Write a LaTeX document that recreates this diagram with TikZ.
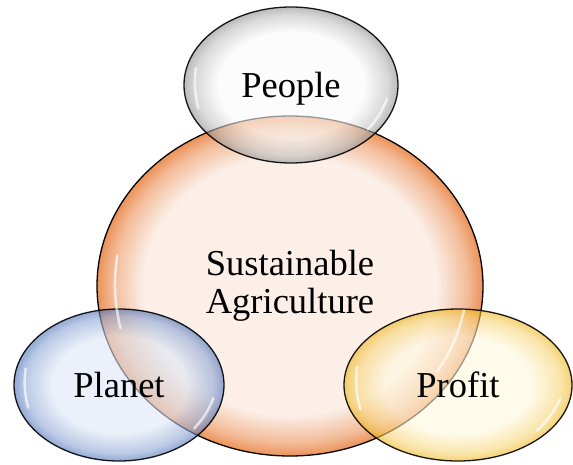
\documentclass[tikz,border=0pt]{standalone}
\usepackage{fontspec}
\setmainfont{Liberation Serif}
\usepackage{xcolor}
\usepackage{tikz}
\usetikzlibrary{shapes.geometric, calc}
\definecolor{agriIn}{HTML}{FBEFE8}
\definecolor{agriOut}{HTML}{EC9258}
\definecolor{peopleIn}{HTML}{FAFAFA}
\definecolor{peopleOut}{HTML}{8E8E8E}
\definecolor{planetIn}{HTML}{DDE6F6}
\definecolor{planetOut}{HTML}{4A70B8}
\definecolor{profitIn}{HTML}{FFF8DE}
\definecolor{profitOut}{HTML}{EEB418}
\pgfdeclareradialshading{agriShade}{\pgfpoint{0bp}{0bp}}{color(0bp)=(agriIn); color(19bp)=(agriIn); color(23bp)=(agriIn!45!agriOut); color(25bp)=(agriOut); color(50bp)=(agriOut)}
\pgfdeclareradialshading{peopleShade}{\pgfpoint{0bp}{0bp}}{color(0bp)=(peopleIn); color(17bp)=(peopleIn); color(22.5bp)=(peopleIn!45!peopleOut); color(25bp)=(peopleOut); color(50bp)=(peopleOut)}
\pgfdeclareradialshading{planetShade}{\pgfpoint{0bp}{0bp}}{color(0bp)=(planetIn); color(16bp)=(planetIn); color(22.5bp)=(planetIn!45!planetOut); color(25bp)=(planetOut); color(50bp)=(planetOut)}
\pgfdeclareradialshading{profitShade}{\pgfpoint{0bp}{0bp}}{color(0bp)=(profitIn); color(16bp)=(profitIn); color(22.5bp)=(profitIn!45!profitOut); color(25bp)=(profitOut); color(50bp)=(profitOut)}
\tikzset{bubble/.style={ellipse,draw=black,line width=1.3pt,inner sep=0pt,align=center,font=\fontsize{36.5}{38}\selectfont},
         front/.style={fill opacity=0.6,text opacity=1,draw opacity=0.9},
         gloss/.style={white,line width=2.5pt,line cap=round,opacity=0.65}}

\begin{document}
\begin{tikzpicture}[x=1pt,y=-1pt]
    \useasboundingbox (0,0) rectangle (573,464);
    \node (agri) [bubble, shade, shading=agriShade, minimum width=386pt, minimum height=340pt] at (290,286) {Sustainable\\Agriculture};
    \node (people) [bubble, front, shade, shading=peopleShade, minimum width=214pt, minimum height=156pt, text depth=0pt] at (291,85) {People};
    \node (planet) [bubble, front, shade, shading=planetShade, minimum width=210pt, minimum height=152pt] at (119,385) {Planet};
    \node (profit) [bubble, front, shade, shading=profitShade, minimum width=228pt, minimum height=152pt] at (458,385) {Profit};
    % glossy highlights
    \foreach \n in {agri,people,planet,profit} {
      \draw[gloss] ($(\n.center)!0.91!(\n.170)$) to[bend right=10] ($(\n.center)!0.91!(\n.194)$);
      \draw[gloss] ($(\n.center)!0.91!(\n.-30)$) to[bend right=10] ($(\n.center)!0.91!(\n.-8)$);
    }
\end{tikzpicture}
\end{document}
